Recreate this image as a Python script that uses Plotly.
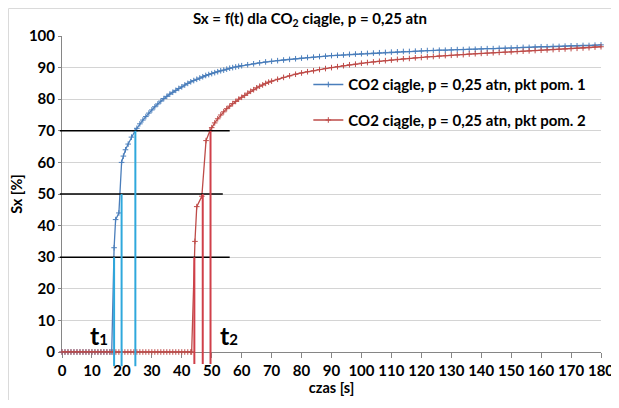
import plotly.graph_objects as go

# ---- data ----
t_blue = [0, 1, 2, 3, 4, 5, 6, 7, 8, 9, 10, 11, 12, 13, 14, 15, 16, 16.6,
          17.4, 17.9, 19.0, 19.9, 20.5, 21.2, 22.1, 23.2, 24.4,
          25, 26, 27, 28, 29, 30, 31, 32, 33, 34, 35, 36, 37, 38, 39,
          40, 41, 42, 43, 44, 45, 46, 47, 48, 49, 50, 51, 52, 53, 54, 55, 56, 57, 58, 59,
          60, 62, 64, 66, 68, 70, 72, 74, 76, 78, 80, 82, 84, 86, 88, 90, 92, 94, 96, 98,
          100, 102, 104, 106, 108, 110, 112, 114, 116, 118, 120, 122, 124, 126, 128,
          130, 132, 134, 136, 138, 140, 142, 144, 146, 148, 150, 152, 154, 156, 158,
          160, 162, 164, 166, 168, 170, 172, 174, 176, 178, 180]
sx_blue = [0, 0, 0, 0, 0, 0, 0, 0, 0, 0, 0, 0, 0, 0, 0, 0, 0, 0,
           33.0, 41.9, 44.0, 60.0, 62.0, 64.0, 65.8, 68.0, 70.0,
           70.8, 72.2, 73.4, 74.5, 75.6, 76.6, 77.6, 78.5, 79.4, 80.2, 80.9, 81.6, 82.2, 82.8, 83.4,
           83.9, 84.5, 85.0, 85.5, 85.9, 86.3, 86.7, 87.1, 87.5, 87.8, 88.1, 88.4, 88.7, 89.0, 89.2,
           89.5, 89.8, 90.0, 90.2, 90.4,
           90.6, 90.9, 91.2, 91.5, 91.8, 92.0, 92.2, 92.4, 92.6, 92.8, 93.0, 93.2, 93.3, 93.5, 93.6,
           93.8, 93.9, 94.0, 94.2, 94.3,
           94.4, 94.5, 94.6, 94.7, 94.8, 94.9, 95.0, 95.1, 95.1, 95.2, 95.3, 95.4, 95.4, 95.5, 95.5,
           95.6, 95.7, 95.7, 95.8, 95.8, 95.9, 96.0, 96.0, 96.1, 96.1, 96.2, 96.3, 96.4, 96.4, 96.5,
           96.6, 96.6, 96.7, 96.7, 96.8, 96.9, 96.9, 97.0, 97.0, 97.1, 97.2]

t_red = [0, 1, 2, 3, 4, 5, 6, 7, 8, 9, 10, 11, 12, 13, 14, 15, 16, 17, 18, 19, 20,
         21, 22, 23, 24, 25, 26, 27, 28, 29, 30, 31, 32, 33, 34, 35, 36, 37, 38, 39, 40,
         41, 42, 43, 43.3,
         44.4, 45.0, 46.7, 48.1, 49.4,
         50, 51, 52, 53, 54, 55, 56, 57, 58, 59, 60, 61, 62, 63, 64, 65, 66, 67, 68, 69, 70,
         72, 74, 76, 78, 80, 82, 84, 86, 88, 90, 92, 94, 96, 98,
         100, 102, 104, 106, 108, 110, 112, 114, 116, 118, 120, 122, 124, 126, 128,
         130, 132, 134, 136, 138, 140, 142, 144, 146, 148, 150, 152, 154, 156, 158,
         160, 162, 164, 166, 168, 170, 172, 174, 176, 178, 180]
sx_red = [0, 0, 0, 0, 0, 0, 0, 0, 0, 0, 0, 0, 0, 0, 0, 0, 0, 0, 0, 0, 0,
          0, 0, 0, 0, 0, 0, 0, 0, 0, 0, 0, 0, 0, 0, 0, 0, 0, 0, 0, 0,
          0, 0, 0, 0,
          35.0, 46.0, 49.3, 66.9, 70.0,
          71.0, 72.5, 73.8, 75.0, 76.0, 77.0, 77.8, 78.6, 79.3, 80.0, 80.6, 81.2, 81.9, 82.5, 83.0,
          83.6, 84.1, 84.5, 85.0, 85.4, 85.7,
          86.3, 86.9, 87.4, 87.9, 88.3, 88.7, 89.0, 89.4, 89.7, 90.0, 90.3, 90.6, 90.9, 91.1,
          91.4, 91.6, 91.8, 92.0, 92.2, 92.4, 92.6, 92.8, 92.9, 93.1, 93.2, 93.4, 93.5, 93.7, 93.8,
          93.9, 94.0, 94.1, 94.3, 94.4, 94.5, 94.6, 94.7, 94.8, 94.9, 95.0, 95.1, 95.2, 95.3, 95.4,
          95.5, 95.6, 95.7, 95.8, 95.9, 96.0, 96.1, 96.2, 96.3, 96.5, 96.6]

levels = [30, 50, 70]                 # horizontal reference levels [%]
level_ends = [56, 53.7, 56]           # end time of the black level lines [s]
t1_cross = [17.4, 19.9, 24.5]         # blue crossing times [s]
t2_cross = [44.2, 47.0, 49.6]         # red crossing times [s]

x_ticks = list(range(0, 181, 10))
y_ticks = list(range(0, 101, 10))

name1 = "CO2 ciągle, p = 0,25 atn, pkt pom. 1"
name2 = "CO2 ciągle, p = 0,25 atn, pkt pom. 2"

BLUE = "#4a7ebb"
RED = "#be4b48"
VBLUE = "#2fa8dc"
VRED = "#d0404a"
FONT = "Lato"

X0, X1 = 0, 180
Y0, Y1 = 0, 100

# the page body has an 8px margin, so the figure is sized/offset to compensate
W, H = 611, 400
ML, MR, MT, MB = 54, 18, 28, 56
PW, PH = W - ML - MR, H - MT - MB

fig = go.Figure()
fig.add_trace(go.Scatter(x=t_blue, y=sx_blue, name="<b>" + name1 + "</b>", mode="lines+markers",
                         line=dict(color=BLUE, width=1.3),
                         marker=dict(symbol="cross-thin", size=4, line=dict(color=BLUE, width=1)),
                         cliponaxis=False, legendgroup="a"))
fig.add_trace(go.Scatter(x=t_red, y=sx_red, name="<b>" + name2 + "</b>", mode="lines+markers",
                         line=dict(color=RED, width=1.3),
                         marker=dict(symbol="cross-thin", size=4, line=dict(color=RED, width=1)),
                         cliponaxis=False, legendgroup="b"))

shapes = []
for lv, xe in zip(levels, level_ends):
    shapes.append(dict(type="line", xref="paper", yref="y",
                       x0=-0.004, x1=(xe - X0) / (X1 - X0), y0=lv, y1=lv,
                       line=dict(color="black", width=1.5)))


def ypaper(v):
    return (v - Y0) / (Y1 - Y0)


for xc, lv in zip(t1_cross, levels):
    shapes.append(dict(type="line", xref="x", yref="paper", x0=xc, x1=xc,
                       y0=ypaper(-4.5), y1=ypaper(lv), line=dict(color=VBLUE, width=2)))
for xc, lv in zip(t2_cross, levels):
    shapes.append(dict(type="line", xref="x", yref="paper", x0=xc, x1=xc,
                       y0=ypaper(-3.8), y1=ypaper(lv), line=dict(color=VRED, width=2)))

# faint chart-area frame (left and top edges)
fx = (0.5 - ML) / PW
fy = 1 + (MT - 0.5) / PH
shapes.append(dict(type="line", xref="paper", yref="paper", x0=fx, x1=1 + (MR - 4) / PW,
                   y0=fy, y1=fy, line=dict(color="#dadada", width=1)))
shapes.append(dict(type="line", xref="paper", yref="paper", x0=fx, x1=fx,
                   y0=fy, y1=-(MB - 8) / PH, line=dict(color="#dadada", width=1)))

fig.update_layout(
    width=W, height=H,
    margin=dict(l=ML, r=MR, t=MT, b=MB, autoexpand=False),
    paper_bgcolor="white", plot_bgcolor="white",
    font=dict(family=FONT, size=14, color="black"),
    title=dict(text="<b>Sx = f(t) dla CO<sub>2</sub> ciągle, p = 0,25 atn</b>",
               x=302 / W, xref="container", y=1 - 11 / H, yref="container",
               xanchor="center", yanchor="middle", font=dict(size=15)),
    shapes=shapes,
    showlegend=True,
    legend=dict(x=0.457, y=0.898, xanchor="left", yanchor="top",
                bgcolor="rgba(255,255,255,0)", font=dict(size=15),
                itemwidth=30, tracegroupgap=13),
    annotations=[
        dict(text="<b>t<span style='font-size:15px'>1</span></b>", x=12.4, y=5.4,
             xref="x", yref="y", showarrow=False, font=dict(size=25)),
        dict(text="<b>t<span style='font-size:15px'>2</span></b>", x=55.8, y=5.4,
             xref="x", yref="y", showarrow=False, font=dict(size=25)),
    ],
)
fig.update_xaxes(range=[X0, X1], tickvals=x_ticks, ticktext=[f"<b>{v}</b>" for v in x_ticks],
                 showgrid=False, zeroline=False, showline=True, linecolor="#868686", linewidth=1,
                 ticks="outside", ticklen=5, tickcolor="#868686", tickfont=dict(size=15),
                 layer="below traces", automargin=False,
                 title=dict(text="<b>czas [s]</b>", standoff=4, font=dict(size=14.5)))
fig.update_yaxes(range=[Y0, Y1], tickvals=y_ticks, ticktext=[f"<b>{v}</b>" for v in y_ticks],
                 showgrid=True, gridcolor="#d4d4d4", gridwidth=1, zeroline=False,
                 showline=True, linecolor="#868686", linewidth=1,
                 ticks="outside", ticklen=3, tickcolor="#868686", tickfont=dict(size=15),
                 layer="below traces", automargin=False,
                 title=dict(text="<b>Sx [%]</b>", standoff=3, font=dict(size=14.5)))

fig.write_html("out.html")
